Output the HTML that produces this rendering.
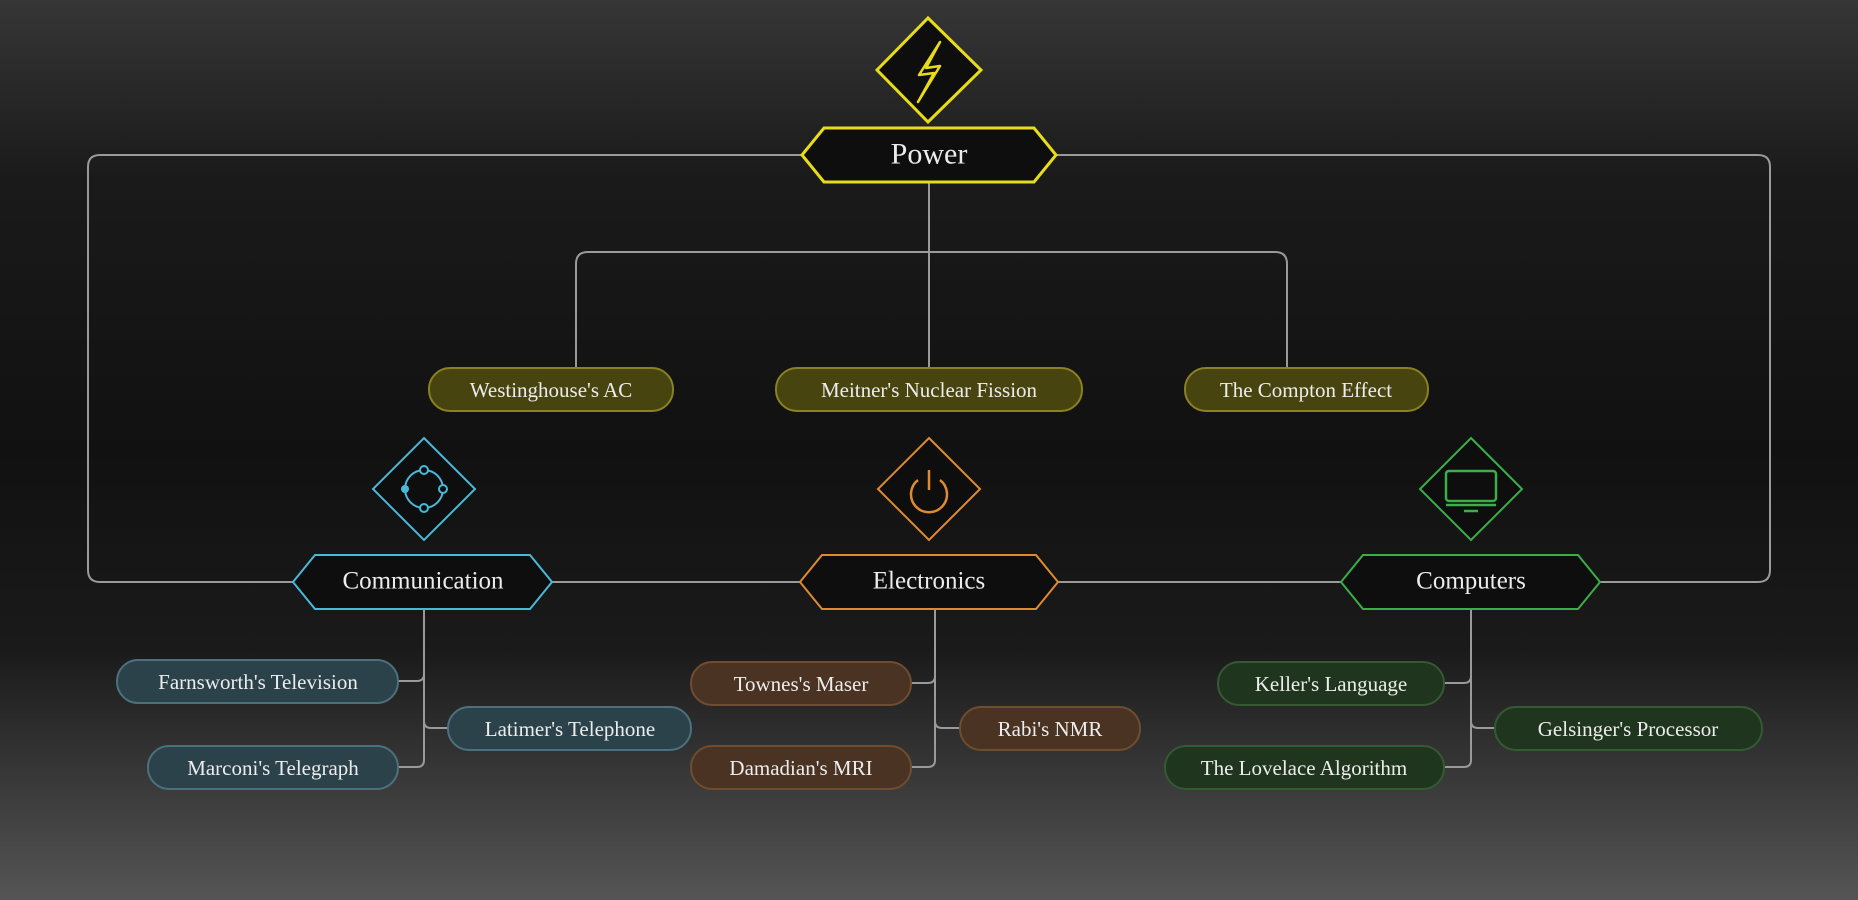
<!DOCTYPE html>
<html><head><meta charset="utf-8"><style>
html,body{margin:0;padding:0;width:1858px;height:900px;overflow:hidden;background:#151515}
svg{display:block}
text{font-family:"Liberation Serif",serif;fill:#ececec;text-anchor:middle;dominant-baseline:central}
</style></head><body>
<svg width="1858" height="900" viewBox="0 0 1858 900">
<defs>
<linearGradient id="bg" x1="0" y1="0" x2="0" y2="1">
<stop offset="0" stop-color="#363636"/>
<stop offset="0.2" stop-color="#1a1a1a"/>
<stop offset="0.5" stop-color="#111"/>
<stop offset="0.72" stop-color="#1a1a1a"/>
<stop offset="1" stop-color="#555"/>
</linearGradient>
</defs>
<rect width="1858" height="900" fill="url(#bg)"/>
<g fill="none" stroke="#9a9a9a" stroke-width="2">
<path d="M802 155 H100 Q88 155 88 167 V570 Q88 582 100 582 H293"/>
<path d="M1056 155 H1758 Q1770 155 1770 167 V570 Q1770 582 1758 582 H1600"/>
<path d="M552 582 H800 M1058 582 H1341"/>
<path d="M929 182 V368"/>
<path d="M576 368 V264 Q576 252 588 252 H1275 Q1287 252 1287 264 V368"/>
<path d="M424 609 V674 Q424 681 417 681 H398 M424 674 V721 Q424 728 431 728 H448 M424 721 V760 Q424 767 417 767 H398"/>
<path d="M935 609 V676 Q935 683 928 683 H911 M935 676 V721 Q935 728 942 728 H960 M935 721 V760 Q935 767 928 767 H911"/>
<path d="M1471 609 V676 Q1471 683 1464 683 H1444 M1471 676 V721 Q1471 728 1478 728 H1495 M1471 721 V760 Q1471 767 1464 767 H1444"/>
</g>
<!-- power -->
<polygon points="928,18 981,70 928,122 877,70" fill="#0e0e0e" stroke="#e8dc1a" stroke-width="3"/>
<path d="M940 42 L919 75 L934 73 L918 102 L940 66 L926 68 Z" fill="none" stroke="#e8dc1a" stroke-width="2.5" stroke-linejoin="round"/>
<polygon points="824,128 1034,128 1056,155 1034,182 824,182 802,155" fill="#0e0e0e" stroke="#e8dc1a" stroke-width="3"/>
<text x="929" y="154" font-size="30">Power</text>
<!-- yellow pills -->
<g stroke="#8a8222" stroke-width="2" fill="#48440f">
<rect x="429" y="368" width="244" height="43" rx="21"/>
<rect x="776" y="368" width="306" height="43" rx="21"/>
<rect x="1185" y="368" width="243" height="43" rx="21"/>
</g>
<g font-size="21">
<text x="551" y="390">Westinghouse's AC</text>
<text x="929" y="390">Meitner's Nuclear Fission</text>
<text x="1306" y="390">The Compton Effect</text>
</g>
<!-- category diamonds -->
<polygon points="424,438 475,489 424,540 373,489" fill="#0e0e0e" stroke="#4ab8d8" stroke-width="2"/>
<circle cx="424" cy="489" r="19" fill="none" stroke="#4ab8d8" stroke-width="2"/>
<g fill="#0e0e0e" stroke="#4ab8d8" stroke-width="2"><circle cx="424" cy="470" r="4"/><circle cx="443" cy="489" r="4"/><circle cx="424" cy="508" r="4"/></g>
<circle cx="405" cy="489" r="4" fill="#4ab8d8"/>
<polygon points="929,438 980,489 929,540 878,489" fill="#0e0e0e" stroke="#e08a30" stroke-width="2"/>
<path d="M918 480 A18 18 0 1 0 940 480" fill="none" stroke="#e08a30" stroke-width="2.5"/>
<line x1="929" y1="470" x2="929" y2="490" stroke="#e08a30" stroke-width="2.5"/>
<polygon points="1471,438 1522,489 1471,540 1420,489" fill="#0e0e0e" stroke="#3aae48" stroke-width="2"/>
<rect x="1446" y="471" width="50" height="30" rx="3" fill="none" stroke="#3aae48" stroke-width="2.5"/>
<line x1="1446" y1="505" x2="1496" y2="505" stroke="#3aae48" stroke-width="2.5"/>
<line x1="1464" y1="511" x2="1478" y2="511" stroke="#3aae48" stroke-width="2.5"/>
<!-- category hexes -->
<polygon points="315,555 530,555 552,582 530,609 315,609 293,582" fill="#0e0e0e" stroke="#4ab8d8" stroke-width="2"/>
<polygon points="822,555 1036,555 1058,582 1036,609 822,609 800,582" fill="#0e0e0e" stroke="#e08a30" stroke-width="2"/>
<polygon points="1363,555 1578,555 1600,582 1578,609 1363,609 1341,582" fill="#0e0e0e" stroke="#3aae48" stroke-width="2"/>
<g font-size="25">
<text x="423" y="581">Communication</text>
<text x="929" y="581">Electronics</text>
<text x="1471" y="581">Computers</text>
</g>
<!-- leaves -->
<g stroke="#4d717c" stroke-width="2" fill="#2b424b">
<rect x="117" y="660" width="281" height="43" rx="21"/>
<rect x="448" y="707" width="243" height="43" rx="21"/>
<rect x="148" y="746" width="250" height="43" rx="21"/>
</g>
<g stroke="#6e4d30" stroke-width="2" fill="#4a3322">
<rect x="691" y="662" width="220" height="43" rx="21"/>
<rect x="960" y="707" width="180" height="43" rx="21"/>
<rect x="691" y="746" width="220" height="43" rx="21"/>
</g>
<g stroke="#345a33" stroke-width="2" fill="#1f351e">
<rect x="1218" y="662" width="226" height="43" rx="21"/>
<rect x="1495" y="707" width="267" height="43" rx="21"/>
<rect x="1165" y="746" width="279" height="43" rx="21"/>
</g>
<g font-size="21">
<text x="258" y="682">Farnsworth's Television</text>
<text x="570" y="729">Latimer's Telephone</text>
<text x="273" y="768">Marconi's Telegraph</text>
<text x="801" y="684">Townes's Maser</text>
<text x="1050" y="729">Rabi's NMR</text>
<text x="801" y="768">Damadian's MRI</text>
<text x="1331" y="684">Keller's Language</text>
<text x="1628" y="729">Gelsinger's Processor</text>
<text x="1304" y="768">The Lovelace Algorithm</text>
</g>
</svg>
</body></html>
